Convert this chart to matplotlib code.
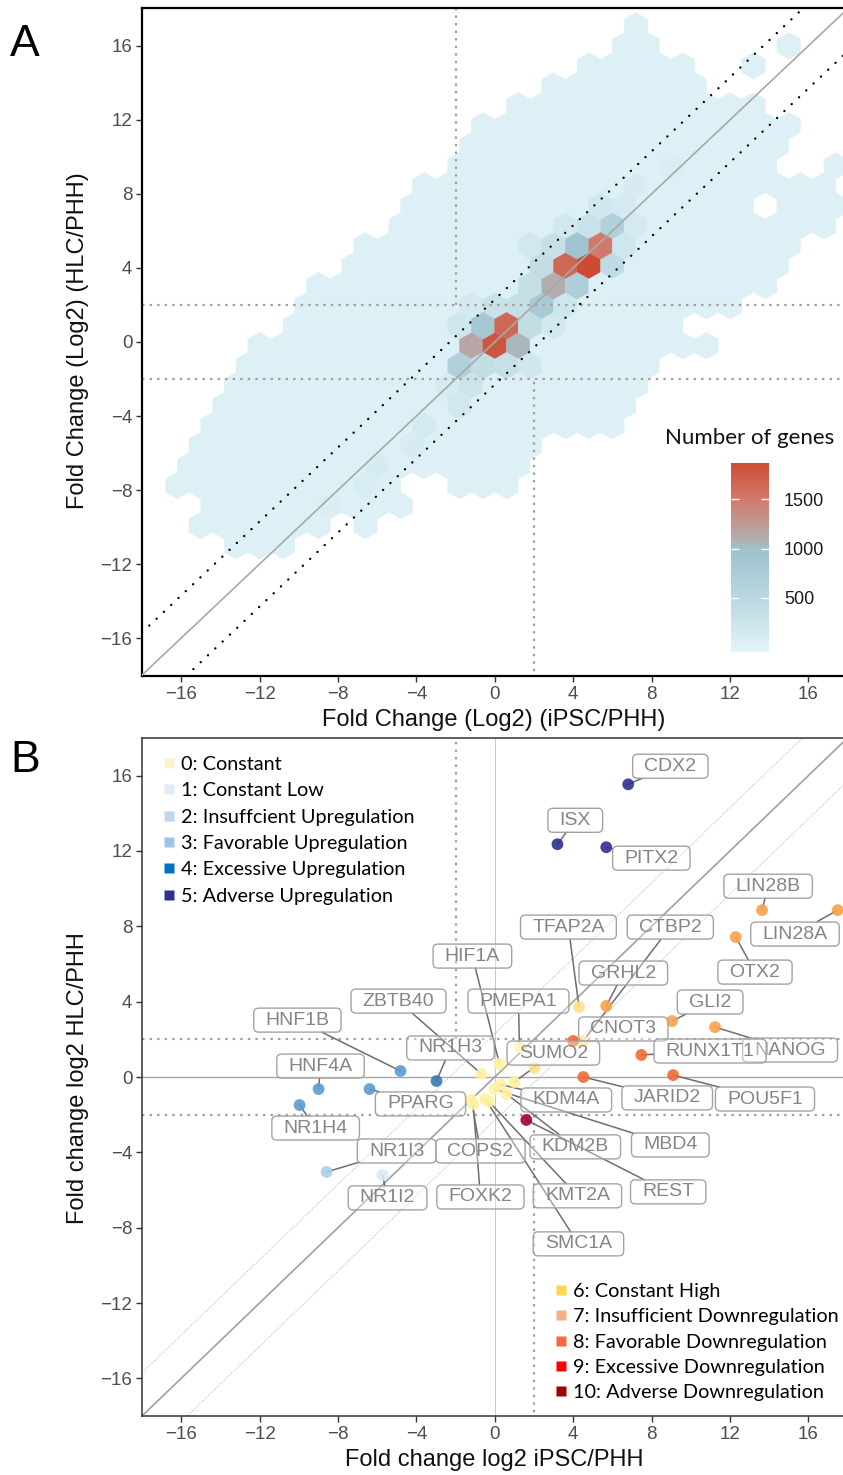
#!/usr/bin/env python3
# -*- coding: utf-8 -*-
"""
Fold change HLC/PHH against iPSC/PHH: gene density (A) and
selected genes by regulation class (B).
"""

import numpy as np
import matplotlib
matplotlib.use('Agg')
import matplotlib.pyplot as plt
from matplotlib.colors import LinearSegmentedColormap, Normalize
from matplotlib.lines import Line2D
from matplotlib.patches import BoxStyle

# ------------------------------------------------------------------ panel A
# rows of hexagons: (row, x of first cell, x of last cell)
# row r sits at y = -0.2 + 1.08 * r, odd rows shifted by half a cell
HEX_ROWS = [
    (16, 6.6, 7.8),
    (15, 6.6, 7.8), (15, 15.0, 15.0),
    (14, 4.2, 9.5), (14, 13.2, 13.2),
    (13, 2.4, 4.8), (13, 6.6, 9.7),
    (12, 1.2, 13.0),
    (11, -0.1, 13.5), (11, 15.6, 15.6),
    (10, -1.2, 13.9),
    (9, -1.6, 14.0), (9, 17.4, 17.4),
    (8, -3.6, 17.3),
    (7, -4.2, 13.2), (7, 15.0, 17.0),
    (6, -4.8, 16.2),
    (5, -6.3, 15.6),
    (4, -7.2, 15.0),
    (3, -8.4, 13.9),
    (2, -9.3, 11.5),
    (1, -10.6, 9.5),
    (0, -11.9, 10.8),
    (-1, -12.6, 7.7),
    (-2, -13.3, 7.2),
    (-3, -13.9, 6.5),
    (-4, -13.9, 1.8), (-4, 3.0, 5.4),
    (-5, -15.0, 1.8),
    (-6, -15.6, 1.2),
    (-7, -15.6, -4.9), (-7, -2.4, 1.0),
    (-8, -15.0, -4.9),
    (-9, -15.0, -12.6), (-9, -11.0, -8.6), (-9, -6.7, -6.7),
    (-10, -13.3, -10.4),
]
LOW_COUNT = 20

# denser cells along the diagonal
HOT_X = [4.8, 3.6, 5.4, 4.2, 3.0, 4.2, 2.4, 0.6, 0.0, -0.6, -1.2, 1.2, -2.4, 6.0,
         -8.4, -7.2, -6.0, -4.8, -3.6, -2.4, -3.0, -1.2, -1.8, -0.6, 0.6, 1.8,
         -1.8, 1.8, -1.2, 0.0, 1.2, 1.8, 2.4, 3.6, 1.8, 3.0, 6.0, 6.6, 4.8,
         3.6, 5.4, 7.2, 6.6, 7.8, 9.0, 3.0]
HOT_Y = [4.1, 4.1, 5.2, 5.2, 3.0, 3.0, 2.0, 0.9, -0.2, 0.9, -0.2, -0.2, -1.3, 6.3,
         -8.8, -7.7, -6.6, -5.5, -4.4, -3.4, -2.3, -2.3, -1.3, -1.3, -1.3, -1.3,
         0.9, 0.9, 2.0, 2.0, 2.0, 3.0, 4.1, 2.0, 5.2, 5.2, 4.1, 5.2, 6.3,
         6.3, 7.3, 6.3, 7.3, 8.4, 9.5, 0.9]
HOT_N = [1870, 1650, 1500, 950, 1100, 700, 800, 1650, 1780, 850, 1150, 1050, 650, 650,
         80, 90, 100, 110, 140, 170, 130, 250, 300, 380, 330, 200,
         220, 380, 150, 300, 350, 350, 380, 220, 180, 330, 420, 220, 300,
         180, 200, 150, 140, 100, 80, 180]

CBAR_TICKS = [500, 1000, 1500]

# ------------------------------------------------------------------ panel B
GENES = ['CDX2', 'ISX', 'PITX2', 'LIN28B', 'LIN28A', 'OTX2', 'GLI2', 'NANOG',
         'GRHL2', 'TFAP2A', 'CTBP2', 'CNOT3', 'RUNX1T1', 'JARID2', 'POU5F1',
         'REST', 'KDM2B', 'SUMO2', 'PMEPA1', 'HIF1A', 'ZBTB40', 'NR1H3',
         'PPARG', 'KDM4A', 'MBD4', 'KMT2A', 'SMC1A', 'FOXK2', 'COPS2',
         'HNF1B', 'HNF4A', 'NR1H4', 'NR1I3', 'NR1I2']
GENE_X = [6.81, 3.2, 5.69, 13.64, 17.5, 12.3, 9.05, 11.24,
          5.69, 4.3, 4.5, 4.0, 7.48, 4.52, 9.1,
          1.61, 0.6, 1.0, 1.26, 0.24, -0.68, -2.97,
          -6.39, 0.3, 0.0, -0.3, -0.5, -1.1, -1.2,
          -4.81, -8.99, -9.96, -8.58, -5.73]
GENE_Y = [15.54, 12.36, 12.2, 8.86, 8.86, 7.43, 2.97, 2.65,
          3.77, 3.71, 1.9, 1.91, 1.17, 0.0, 0.1,
          -2.28, -0.9, -0.27, 1.59, 0.69, 0.16, -0.21,
          -0.64, -0.4, -0.65, -1.3, -1.15, -1.45, -1.2,
          0.32, -0.64, -1.49, -5.04, -5.2]
GENE_CLASS = [5, 5, 5, 7, 7, 7, 7, 7,
              7, 6, 6, 8, 8, 8, 8,
              10, 0, 0, 0, 0, 0, 4,
              3, 0, 0, 0, 0, 0, 0,
              3, 3, 3, 2, 1]
# one more gene without a label
EXTRA_X = [2.03]
EXTRA_Y = [0.48]
EXTRA_CLASS = [6]

CLASS_NAMES = ['0: Constant', '1: Constant Low', '2: Insuffcient Upregulation',
               '3: Favorable Upregulation', '4: Excessive Upregulation',
               '5: Adverse Upregulation', '6: Constant High',
               '7: Insufficient Downregulation', '8: Favorable Downregulation',
               '9: Excessive Downregulation', '10: Adverse Downregulation']

# label placement (data coords of box centres)
LABEL_POS = {
    'CDX2': (8.96, 16.5), 'ISX': (4.11, 13.63), 'PITX2': (7.99, 11.62),
    'LIN28B': (13.95, 10.13), 'LIN28A': (15.32, 7.59), 'OTX2': (13.28, 5.57),
    'GLI2': (10.99, 3.98), 'NANOG': (15.07, 1.43), 'GRHL2': (6.56, 5.52),
    'TFAP2A': (3.76, 7.96), 'CTBP2': (8.96, 7.96), 'CNOT3': (6.56, 2.55),
    'RUNX1T1': (10.99, 1.38), 'JARID2': (8.8, -1.11), 'POU5F1': (13.79, -1.17),
    'REST': (8.85, -6.1), 'KDM2B': (4.11, -3.71), 'SUMO2': (2.99, 1.27),
    'PMEPA1': (1.21, 4.03), 'HIF1A': (-1.14, 6.42), 'ZBTB40': (-4.91, 4.03),
    'NR1H3': (-2.26, 1.54), 'PPARG': (-3.79, -1.43), 'KDM4A': (3.65, -1.22),
    'MBD4': (8.96, -3.61), 'KMT2A': (4.22, -6.31), 'SMC1A': (4.27, -8.86),
    'FOXK2': (-0.73, -6.37), 'COPS2': (-0.73, -3.93), 'HNF1B': (-10.07, 3.02),
    'HNF4A': (-8.89, 0.58), 'NR1H4': (-9.14, -2.71), 'NR1I3': (-5.01, -3.93),
    'NR1I2': (-5.47, -6.42),
}

KEY_COLORS = ['#FFF2CC', '#DEEBF7', '#BDD7EE', '#9DC3E6', '#0070C0', '#2E3192',
              '#FFD54F', '#F4B183', '#F26A3F', '#FF0000', '#A00000']
POINT_COLORS = ['#FFF1A0', '#D6EAF6', '#A5D0E8', '#5B9BD0', '#3A78B5', '#2E3192',
                '#FFE08A', '#F7A24C', '#F06A35', '#E8141C', '#A50026']

W, H = 843, 1475
TICK_FONT = 'Liberation Sans'
KEY_FONT = 'Lato'


def px_box(left, top, right, bottom):
    return [left / W, 1 - bottom / H, (right - left) / W, (bottom - top) / H]


def style_axis(ax, spine_color, spine_width):
    ticks = np.arange(-16, 17, 4)
    ax.set_xticks(ticks)
    ax.set_yticks(ticks)
    for side in ['left', 'bottom', 'top']:
        ax.spines[side].set_color(spine_color)
        ax.spines[side].set_linewidth(spine_width)
    ax.spines['right'].set_visible(False)
    ax.tick_params(length=4, width=1, color='#333333', labelcolor='#4D4D4D',
                   labelsize=13.5, pad=3)
    for lab in ax.get_xticklabels() + ax.get_yticklabels():
        lab.set_family(TICK_FONT)


def threshold_lines(ax, lim):
    kw = dict(color='#A0A0A0', lw=1.6, ls=(0, (1.1, 2.3)), zorder=2)
    ax.axhline(2, **kw)
    ax.axhline(-2, **kw)
    ax.plot([-2, -2], [2, lim], **kw)
    ax.plot([2, 2], [-lim, -2], **kw)


fig = plt.figure(figsize=(W / 100, H / 100), dpi=100)

# ---------------------------------------------------------------- A
axA = fig.add_axes(px_box(142, 8, 847.5, 676))
axA.set_xlim(-18, 18)
axA.set_ylim(-18.05, 18.05)

hx, hy, hn = [], [], []
for row, x0, x1 in HEX_ROWS:
    phase = 0.6 * (row % 2)
    for i in range(int(round((x0 - phase) / 1.2)), int(round((x1 - phase) / 1.2)) + 1):
        hx.append(phase + 1.2 * i)
        hy.append(-0.2 + 1.08 * row)
        hn.append(LOW_COUNT)
hx += HOT_X
hy += HOT_Y
hn += HOT_N

stops = [(-50, '#E2F4F9'), (500, '#BAD7E0'), (1000, '#9DC2CD'),
         (1100, '#B3ADAE'), (1500, '#D07A6B'), (1870, '#CD4B35')]
lo, hi = stops[0][0], stops[-1][0]
cmap = LinearSegmentedColormap.from_list(
    'genes', [((v - lo) / (hi - lo), c) for v, c in stops])
norm = Normalize(vmin=lo, vmax=hi)

hb = axA.hexbin(hx, hy, C=hn, gridsize=(32, 18),
                extent=(-19.2, 19.2, -19.64, 19.24),
                reduce_C_function=np.max, mincnt=1, cmap=cmap, norm=norm,
                linewidths=0.3, edgecolors='face', zorder=1)

threshold_lines(axA, 19)
axA.axline((0, 0), slope=1, color='#A8A8A8', lw=1.2, zorder=3)
for off in (2.3, -2.3):
    axA.axline((0, off), slope=1, color='black', lw=1.7,
               ls=(0, (0.05, 4.2)), dash_capstyle='round', zorder=3)
style_axis(axA, 'black', 1.6)

cax = fig.add_axes(px_box(730.7, 462.7, 768.7, 652.3))
cb = fig.colorbar(hb, cax=cax, ticks=CBAR_TICKS)
cb.outline.set_visible(False)
cax.tick_params(direction='in', length=6, width=1, color='white',
                left=True, right=True, labelcolor='#1A1A1A', labelsize=13, pad=11)
for lab in cax.get_yticklabels():
    lab.set_family(TICK_FONT)
fig.text(665 / W, 1 - 438 / H, 'Number of genes', family=KEY_FONT, fontsize=16,
         ha='left', va='center', color='#111111')

# ---------------------------------------------------------------- B
axB = fig.add_axes(px_box(142, 738, 847.5, 1416))
axB.set_xlim(-18, 18)
axB.set_ylim(-18, 18)
threshold_lines(axB, 19)
axB.axhline(0, color='#A6A6A6', lw=1.0, zorder=1)
axB.axvline(0, color='#C8C8C8', lw=0.7, zorder=1)
axB.axline((0, 0), slope=1, color='#A0A0A0', lw=1.2, zorder=1)
for off in (2.3, -2.3):
    axB.axline((0, off), slope=1, color='#B0B0B0', lw=0.7,
               ls=(0, (1, 1.5)), zorder=1)
style_axis(axB, '#333333', 1.1)

_rounded = BoxStyle.Round(pad=0, rounding_size=0.25)


def label_box(x0, y0, width, height, mutation_size):
    dx, dy = 0.6 * mutation_size, 0.18 * mutation_size
    return _rounded(x0 - dx, y0 - dy, width + 2 * dx, height + 2 * dy, mutation_size)


lab_kw = dict(ha='center', va='center', fontsize=14, family=TICK_FONT)
for g, x, y in zip(GENES, GENE_X, GENE_Y):
    lx, ly = LABEL_POS[g]
    # segment only, clipped at the label box
    axB.annotate(g, xy=(x, y), xytext=(lx, ly), color='none',
                 bbox=dict(boxstyle=label_box, fc='none', ec='none'),
                 arrowprops=dict(arrowstyle='-', color='#6E6E6E', lw=1.1,
                                 shrinkA=0, shrinkB=0),
                 zorder=3, **lab_kw)

px = GENE_X + EXTRA_X
py = GENE_Y + EXTRA_Y
pc = [POINT_COLORS[c] for c in GENE_CLASS + EXTRA_CLASS]
axB.scatter(px, py, s=72, c=pc, edgecolors='none', alpha=0.9, zorder=4)

for g in GENES:
    lx, ly = LABEL_POS[g]
    axB.text(lx, ly, g, color='#858585',
             bbox=dict(boxstyle=label_box, fc=(1, 1, 1, 0.35), ec='#A3A3A3', lw=1.0),
             zorder=5, **lab_kw)


def key_handles(idx):
    return [Line2D([], [], ls='none', marker='s', ms=6.5, mfc=KEY_COLORS[i],
                   mec='none') for i in idx]


leg_kw = dict(frameon=False, prop=dict(family=KEY_FONT, size=14.3), handlelength=0.55,
              handletextpad=0.3, borderpad=0, borderaxespad=0,
              loc='upper left', bbox_transform=fig.transFigure)
up = range(0, 6)
leg1 = axB.legend(key_handles(up), [CLASS_NAMES[i] for i in up],
                  bbox_to_anchor=(164 / W, 1 - 756 / H), labelspacing=0.47, **leg_kw)
axB.add_artist(leg1)
down = range(6, 11)
axB.legend(key_handles(down), [CLASS_NAMES[i] for i in down],
           bbox_to_anchor=(556 / W, 1 - 1283 / H), labelspacing=0.42, **leg_kw)

# ---------------------------------------------------------------- texts
lab_font = dict(family=TICK_FONT, fontsize=17, color='#111111', ha='center', va='center')
fig.text(494 / W, 1 - 720 / H, 'Fold Change (Log2) (iPSC/PHH)', **lab_font)
fig.text(78 / W, 1 - 341 / H, 'Fold Change (Log2) (HLC/PHH)', rotation=90, **lab_font)
fig.text(494 / W, 1 - 1460 / H, 'Fold change log2 iPSC/PHH', **lab_font)
fig.text(78 / W, 1 - 1078 / H, 'Fold change log2 HLC/PHH', rotation=90, **lab_font)
fig.text(25 / W, 1 - 44 / H, 'A', family=TICK_FONT, fontsize=32, ha='center', va='center')
fig.text(25 / W, 1 - 760 / H, 'B', family=TICK_FONT, fontsize=32, ha='center', va='center')

fig.savefig('out.png', dpi=100)
